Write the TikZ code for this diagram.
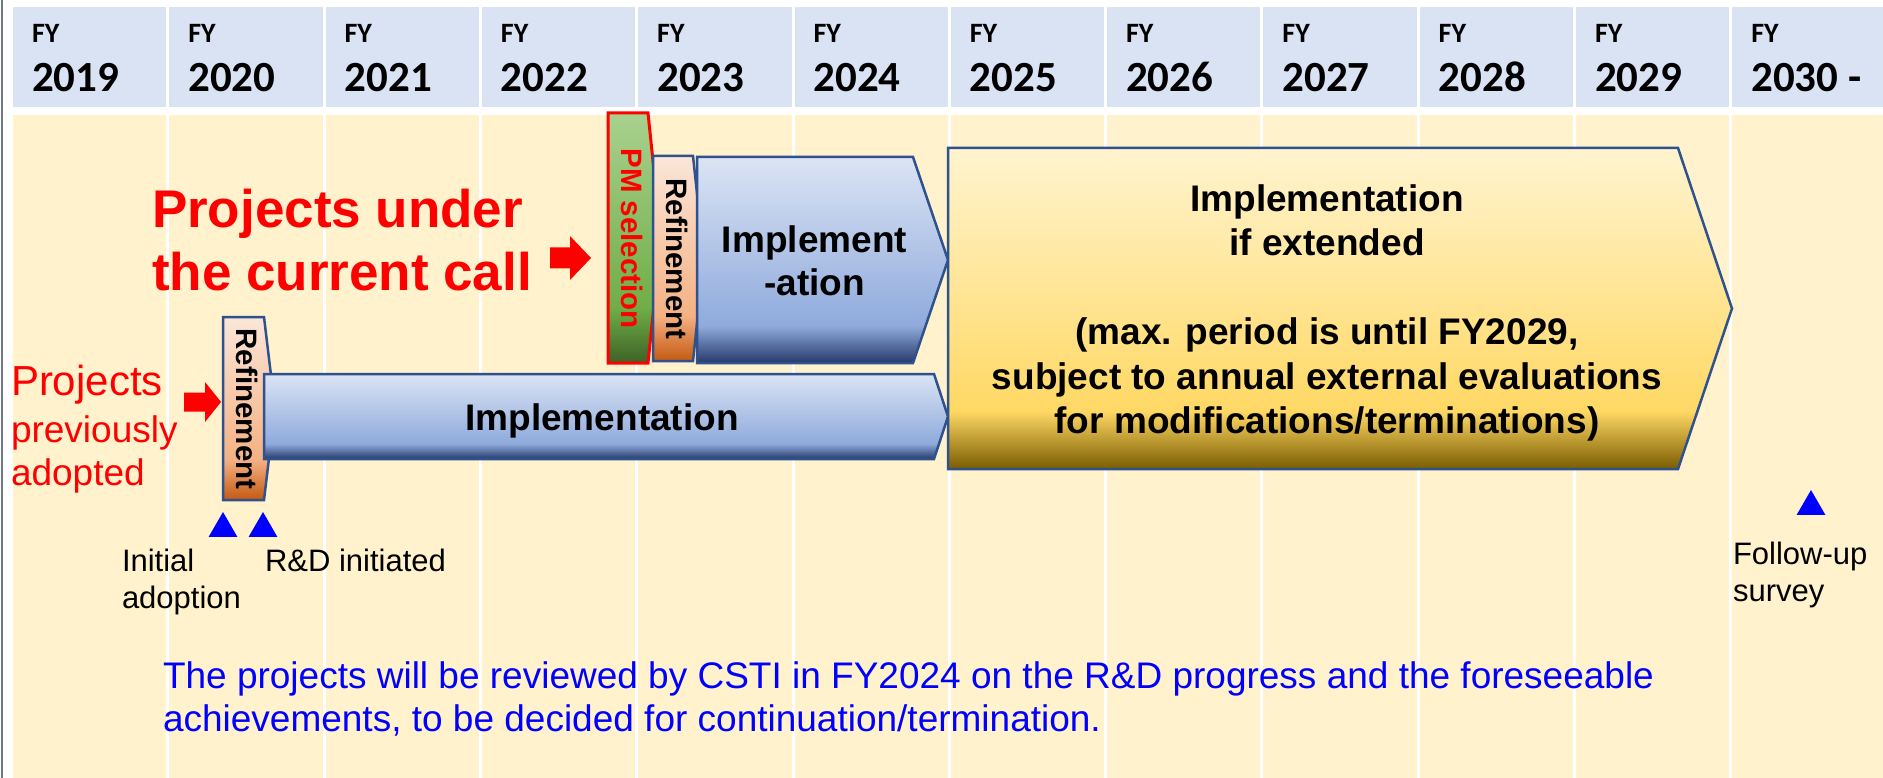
\documentclass[tikz,border=0pt]{standalone}
\usepackage{fontspec}
\setmainfont{Liberation Sans}
\newfontfamily\calfont{Carlito}
\usepackage{tikz}
\usetikzlibrary{shapes.geometric,calc}

% colours
\definecolor{hdrblue}{RGB}{218,227,243}
\definecolor{cellyellow}{RGB}{255,242,204}
\definecolor{boxedge}{RGB}{47,82,143}
\definecolor{framegray}{RGB}{112,120,134}
\definecolor{implA}{RGB}{219,228,244}
\definecolor{implB}{RGB}{143,170,220}
\definecolor{implC}{RGB}{36,58,105}
\definecolor{extA}{RGB}{255,244,208}
\definecolor{extB}{RGB}{255,216,100}
\definecolor{extC}{RGB}{122,92,0}
\definecolor{refA}{RGB}{251,230,216}
\definecolor{refB}{RGB}{244,177,131}
\definecolor{refC}{RGB}{196,89,17}
\definecolor{pmA}{RGB}{169,209,142}
\definecolor{pmB}{RGB}{112,173,71}
\definecolor{pmC}{RGB}{62,98,38}

% vertical gradients (bottom of path = 25bp, top = 75bp)
\pgfdeclareverticalshading{implshade}{100bp}{color(0bp)=(implC); color(25bp)=(implC); color(34bp)=(implB); color(75bp)=(implA); color(100bp)=(implA)}
\pgfdeclareverticalshading{extshade}{100bp}{color(0bp)=(extC); color(25bp)=(extC); color(34bp)=(extB); color(75bp)=(extA); color(100bp)=(extA)}
\pgfdeclareverticalshading{refshade}{100bp}{color(0bp)=(refC); color(25bp)=(refC); color(36bp)=(refB); color(75bp)=(refA); color(100bp)=(refA)}
\pgfdeclareverticalshading{pmshade}{100bp}{color(0bp)=(pmC); color(25bp)=(pmC); color(36bp)=(pmB); color(75bp)=(pmA); color(100bp)=(pmA)}

\newcommand{\fsz}[2]{\fontsize{#1}{#2}\selectfont}

\tikzset{
  bar/.style={draw=boxedge, line width=2.5pt, line join=miter},
  implbar/.style={bar, shading=implshade},
  extbar/.style={bar, shading=extshade},
  refbar/.style={bar, shading=refshade},
  pmbar/.style={draw=red, line width=3pt, line join=miter, shading=pmshade},
  txt/.style={inner sep=0pt, outer sep=0pt},
  boxtxt/.style={txt, font=\fsz{37}{43}\bfseries},
  sidetxt/.style={txt, font=\fsz{29.5}{32}\bfseries, rotate=-90},
  note/.style={txt, font=\fsz{31}{37}, align=left},
  marker/.style={regular polygon, regular polygon sides=3, fill=blue, inner sep=0pt, minimum size=33pt},
}

\begin{document}
\begin{tikzpicture}[x=1pt, y=-1pt]
    \useasboundingbox (0,0) rectangle (1883,778);
    \clip (0,0) rectangle (1883,778);
    \fill[white] (0,0) rectangle (1883,778);
    \draw[framegray, line width=2pt] (2,0) -- (2,778);

    % Fiscal year grid
    \foreach \yr [count=\i from 0] in {2019,...,2029,2030 -} {
        \pgfmathsetmacro{\xl}{13+156.3*\i}
        \fill[hdrblue] (\xl,7) rectangle ++(153.3,100);
        \fill[cellyellow] (\xl,115) rectangle ++(153.3,663);
        \node[txt, anchor=base west, font=\calfont\fsz{28}{30}\bfseries] (fy\i) at (\xl+19,43) {FY};
        \node[txt, anchor=base west, font=\calfont\fsz{43}{45}\bfseries] (yr\i) at (\xl+19,92) {\yr};
    }

    % Projects previously adopted
    \shadedraw[refbar] (223,317) -- (264,317) -- (275,408.5) -- (264,500) -- (223,500) -- cycle;
    \shadedraw[implbar] (264,374) -- (934,374) -- (948,416.5) -- (934,459) -- (264,459) -- cycle;
    \node[sidetxt] (refold) at (247.5,409) {Refinement};
    \node[boxtxt, anchor=base] (implold) at (602,430) {Implementation};

    % Projects under the current call
    \shadedraw[pmbar] (608,113) -- (648,113) -- (661,238) -- (648,363) -- (608,363) -- cycle;
    \shadedraw[refbar] (653,156) -- (693,156) -- (704,258.5) -- (693,361) -- (653,361) -- cycle;
    \shadedraw[implbar] (697,157) -- (913,157) -- (948,260) -- (913,363) -- (697,363) -- cycle;
    \node[sidetxt, text=red] (pmsel) at (632.5,238.5) {PM selection};
    \node[sidetxt] (refnew) at (677,259) {Refinement};
    \node[boxtxt, align=center, anchor=north] (implnew) at (814.5,225.5) {Implement\\-ation};

    % Extension
    \shadedraw[extbar] (948,148) -- (1678,148) -- (1732,308.5) -- (1678,469) -- (948,469) -- cycle;
    \node[boxtxt, font=\fsz{37}{44.5}\bfseries, align=center, anchor=north] (exttxt) at (1327,184.5)
        {Implementation\\if extended\\[44.5pt](max. period is until FY2029,\\subject to annual external evaluations\\for modifications/terminations)};

    % Red labels and block arrows
    \node[txt, text=red, font=\fsz{53}{63}\bfseries, align=left, anchor=north west] (curcall) at (152,188.8) {Projects under\\the current call};
    \fill[red] (550,247.5) -- (570,247.5) -- (570,236) -- (591,258) -- (570,280) -- (570,268.5) -- (550,268.5) -- cycle;
    \node[txt, text=red, font=\fsz{42}{48}, anchor=base west] (prevA) at (11,395) {Projects};
    \node[txt, text=red, font=\fsz{37}{43}, align=left, anchor=north west] (prevB) at (11,415.5) {previously\\adopted};
    \fill[red] (184,392.5) -- (205,392.5) -- (205,382) -- (221,402) -- (205,422) -- (205,411.5) -- (184,411.5) -- cycle;

    % Milestones
    \node[marker] (adopt) at (223,528.5) {};
    \node[marker] (start) at (263,528.5) {};
    \node[marker] (follow) at (1811,506.5) {};
    \node[note, anchor=north west] (adopttxt) at (122,548.8) {Initial\\adoption};
    \node[note, anchor=base west] (starttxt) at (265,571) {R\&D initiated};
    \node[note, anchor=north west] (followtxt) at (1733,541.8) {Follow-up\\survey};

    % Review note
    \node[txt, text=blue, font=\fsz{37}{43}, align=left, anchor=north west] (review) at (163,661.5)
        {The projects will be reviewed by CSTI in FY2024 on the R\&D progress and the foreseeable\\achievements, to be decided for continuation/termination.};
\end{tikzpicture}
\end{document}
